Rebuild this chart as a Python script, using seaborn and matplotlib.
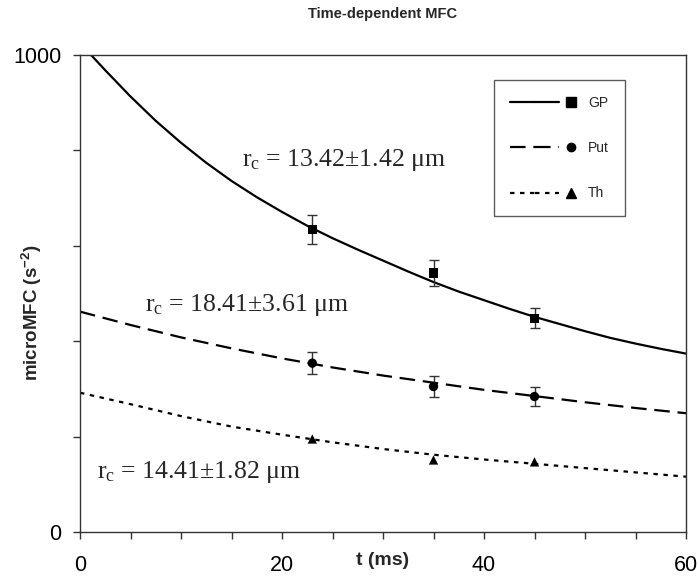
import numpy as np
import pandas as pd
import matplotlib
matplotlib.use("Agg")
import matplotlib.pyplot as plt
import seaborn as sns
from matplotlib.lines import Line2D
from matplotlib.legend_handler import HandlerTuple
from matplotlib.ticker import MultipleLocator, FixedLocator

# ---------------- data ----------------
regions = ["GP", "Put", "Th"]
t_gp = [0, 2.5, 5, 7.5, 10, 12.5, 15, 17.5, 20, 22.5, 25, 27.5, 30,
        32.5, 35, 37.5, 40, 42.5, 45, 47.5, 50, 52.5, 55, 57.5, 60]
gp_fit = [1025, 968, 913, 862, 816, 774, 736, 702, 671, 642, 616, 592, 569,
          546, 524, 504, 486, 468, 451, 436, 421, 407, 395, 384, 374]
t_fit = [0, 5, 10, 15, 20, 25, 30, 35, 40, 45, 50, 55, 60]
put_fit = [462, 434, 408, 385, 364, 345, 328, 313, 298, 285, 272, 260, 249]
th_fit = [292, 268, 243, 221, 204, 188, 174, 162, 152, 143, 134, 125, 116]

t_pts = [23, 35, 45]
gp_pts = [634, 543, 448]
gp_err = [30, 27, 21]
put_pts = [354, 305, 284]
put_err = [23, 21, 20]
th_pts = [195, 151, 147]

annotations = ["13.42\u00b11.42", "18.41\u00b13.61", "14.41\u00b11.82"]
x_ticks = [0, 20, 40, 60]
y_ticks = [0, 1000]

# ---------------- style ----------------
sns.set_theme(style="white")
plt.rcParams["font.family"] = ["Liberation Sans", "DejaVu Sans"]
plt.rcParams["mathtext.default"] = "regular"

fig = plt.figure(figsize=(6.98, 5.79), dpi=100)
ax = fig.add_axes([80 / 698, 1 - 532 / 579, 606 / 698, 477 / 579])

fit_df = pd.DataFrame({
    "t": t_gp + t_fit + t_fit,
    "v": gp_fit + put_fit + th_fit,
    "region": ["GP"] * len(t_gp) + ["Put"] * len(t_fit) + ["Th"] * len(t_fit),
})
pts_df = pd.DataFrame({
    "t": t_pts * 3,
    "v": gp_pts + put_pts + th_pts,
    "region": [r for r in regions for _ in t_pts],
})

dashes = {"GP": "", "Put": (7, 3.5), "Th": (2, 2.5)}
markers = {"GP": "s", "Put": "o", "Th": "^"}
msize = {"GP": 6.5, "Put": 6, "Th": 6.5}

sns.lineplot(data=fit_df, x="t", y="v", style="region", dashes=dashes,
             color="black", linewidth=1.6, legend=False, ax=ax, sort=False)

ax.errorbar(t_pts, gp_pts, yerr=gp_err, fmt="none", ecolor="#333333",
            elinewidth=1.0, capsize=3.5, capthick=1.0, zorder=3)
ax.errorbar(t_pts, put_pts, yerr=put_err, fmt="none", ecolor="#333333",
            elinewidth=1.0, capsize=3.5, capthick=1.0, zorder=3)

sns.scatterplot(data=pts_df, x="t", y="v", style="region", markers=markers,
                color="black", s=45, edgecolor="black", linewidth=0,
                legend=False, ax=ax, zorder=4)

ax.set_xlim(0, 60)
ax.set_ylim(0, 1000)
ax.xaxis.set_major_locator(FixedLocator(x_ticks))
ax.xaxis.set_minor_locator(MultipleLocator(5))
ax.yaxis.set_major_locator(FixedLocator(y_ticks))
ax.yaxis.set_minor_locator(MultipleLocator(200))
ax.tick_params(axis="both", which="both", direction="out", length=5.3,
               width=1.0, color="#333333", labelsize=15.5, labelcolor="black")
ax.tick_params(axis="x", which="major", pad=11)
ax.tick_params(axis="y", which="major", pad=8)
ax.tick_params(which="both", bottom=True, left=True, top=False, right=False)

for s in ax.spines.values():
    s.set_visible(True)
    s.set_color("#333333")
    s.set_linewidth(1.0)

ax.set_xlabel("t (ms)", fontsize=14, fontweight="bold", labelpad=0)
ax.xaxis.set_label_coords(0.5, -0.042)
ax.set_ylabel("microMFC (s$^{-2}$)", fontsize=13.5, fontweight="bold")
ax.yaxis.set_label_coords(-0.06, 0.46)

fig.text(383 / 698, 1 - 14 / 579, "Time-dependent MFC", ha="center",
         va="center", fontsize=10.5, fontweight="bold")

# annotations
ann_pos = [(16.0, 767), (6.4, 464), (1.7, 113)]
for (tx, ty), txt in zip(ann_pos, annotations):
    ax.text(tx, ty, "r$_{c}$ = " + txt + " \u03bcm", fontsize=18.5,
            family=["Liberation Serif", "DejaVu Serif"], va="baseline",
            ha="left")

# legend
def seg(r):
    ls = "-" if r == "GP" else (0, dashes[r])
    return Line2D([], [], color="black", linewidth=1.6, linestyle=ls)

def mk(r):
    return Line2D([], [], color="black", marker=markers[r], linestyle="none",
                  markersize=msize[r])

handles = [(seg(r), seg(r), mk(r)) for r in regions]
leg = ax.legend(handles, regions, handler_map={tuple: HandlerTuple(ndivide=3, pad=0)},
                loc="upper left", bbox_to_anchor=((494 - 80) / 606, (532 - 80) / 477),
                fontsize=10, frameon=True, fancybox=False, shadow=False,
                handlelength=5.3, handletextpad=0.3, labelspacing=2.25,
                borderpad=1.15, borderaxespad=0)
leg.get_frame().set_edgecolor("#333333")
leg.get_frame().set_linewidth(1.0)

fig.savefig("out.png", dpi=100)
